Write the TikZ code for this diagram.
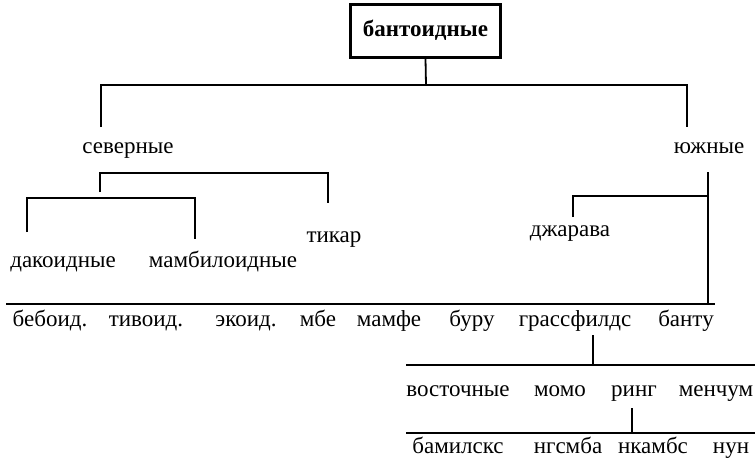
\documentclass[tikz,border=0pt]{standalone}
\usepackage{fontspec}
\setmainfont{Liberation Serif}
\newfontfamily\treefont{Liberation Serif}
\usetikzlibrary{positioning, calc}
\tikzset{
  lbl/.style={inner sep=0pt, anchor=base, font=\treefont\fontsize{23}{25}\selectfont},
  wire/.style={line width=1.8pt},
}

\begin{document}
\begin{tikzpicture}[x=1pt, y=-1pt]
\useasboundingbox (0,0) rectangle (755,459);

% Wurzel mit Rahmen
\node[draw, line width=3pt, minimum width=150pt, minimum height=53pt, inner sep=0pt,
      font=\treefont\fontsize{23}{25}\selectfont\bfseries] (root) at (425.5,30.5) {бантоидные};

% erste Ebene
\node[lbl] (sev) at (128,153) {северные};
\node[lbl] (yuzh) at (709,153) {южные};

\coordinate (j0) at (426,85);
\coordinate (sevTop) at (101,127);
\coordinate (yuzhTop) at (687,127);
\draw[wire] (root.south) -- (j0);
\draw[wire] (sevTop) -- (sevTop |- j0) -- (yuzhTop |- j0) -- (yuzhTop);

% Norden
\node[lbl] (tikar) at (334,242) {тикар};
\node[lbl] (dak) at (63,267) {дакоидные};
\node[lbl] (mamb) at (223,267) {мамбилоидные};

\coordinate (nA) at (100,192);
\coordinate (nB) at (328,203);
\def\ynord{173}
\draw[wire] (nA) -- (100,\ynord) -- (328,\ynord) -- (nB);

\coordinate (dA) at (27,232);
\coordinate (dB) at (195,239);
\def\ydak{198}
\draw[wire] (dA) -- (27,\ydak) -- (195,\ydak) -- (dB);

% Sueden
\node[lbl] (dzh) at (570,236) {джарава};
\coordinate (sTop) at (708,172);
\coordinate (sBot) at (708,304);
\coordinate (dzhTop) at (573,217);
\draw[wire] (sTop) -- (sBot);
\draw[wire] (dzhTop) -- (dzhTop |- 0,196) -- (sTop |- 0,196);

% untere Reihe
\coordinate (rowL) at (6,304);
\coordinate (rowR) at (715,304);
\draw[wire] (rowL) -- (rowR);

\node[lbl] (beb) at (50,326) {бебоид.};
\node[lbl] (tiv) at (146,326) {тивоид.};
\node[lbl] (eko) at (246,326) {экоид.};
\node[lbl] (mbe) at (318,326) {мбе};
\node[lbl] (mamf) at (389,326) {мамфе};
\node[lbl] (buru) at (472,326) {буру};
\node[lbl] (grass) at (575,326) {грассфилдс};
\node[lbl] (bantu) at (686,326) {банту};

% Grassfields
\coordinate (gTop) at (593,335);
\coordinate (gLine) at (593,365);
\draw[wire] (gTop) -- (gLine);
\draw[wire] (406,365) -- (755,365);

\node[lbl] (vost) at (458,396) {восточные};
\node[lbl] (momo) at (560,396) {момо};
\node[lbl] (ring) at (634,396) {ринг};
\node[lbl] (mench) at (716,396) {менчум};

% Ring
\coordinate (rTop) at (632,408);
\coordinate (rLine) at (632,433);
\draw[wire] (rTop) -- (rLine);
\draw[wire] (406,433) -- (755,433);

\node[lbl] (bamil) at (458,453) {бамилскс};
\node[lbl] (ngsm) at (568,453) {нгсмба};
\node[lbl] (nkam) at (653,453) {нкамбс};
\node[lbl] (nun) at (731,453) {нун};

\end{tikzpicture}
\end{document}
